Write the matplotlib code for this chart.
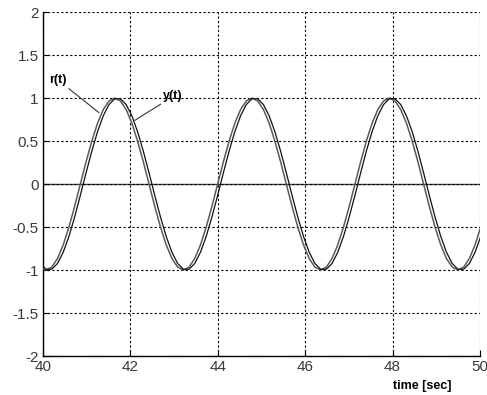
import matplotlib
matplotlib.use("Agg")
import matplotlib.pyplot as plt

# time samples [sec]
t = [39.939, 40.070, 40.201, 40.332, 40.463, 40.594, 40.725, 40.855, 40.986, 41.117,
     41.248, 41.379, 41.510, 41.641, 41.772, 41.903, 42.034, 42.164, 42.295, 42.426,
     42.557, 42.688, 42.819, 42.950, 43.081, 43.212, 43.343, 43.473, 43.604, 43.735,
     43.866, 43.997, 44.128, 44.259, 44.390, 44.521, 44.652, 44.782, 44.913, 45.044,
     45.175, 45.306, 45.437, 45.568, 45.699, 45.830, 45.961, 46.091, 46.222, 46.353,
     46.484, 46.615, 46.746, 46.877, 47.008, 47.139, 47.270, 47.400, 47.531, 47.662,
     47.793, 47.924, 48.055, 48.186, 48.317, 48.448, 48.579, 48.709, 48.840, 48.971,
     49.102, 49.233, 49.364, 49.495, 49.626, 49.757, 49.888, 50.018]

# reference r(t)
r = [-0.966, -1.0, -0.966, -0.866, -0.707, -0.5, -0.259, 0.0, 0.259, 0.5,
     0.707, 0.866, 0.966, 1.0, 0.966, 0.866, 0.707, 0.5, 0.259, 0.0,
     -0.259, -0.5, -0.707, -0.866, -0.966, -1.0, -0.966, -0.866, -0.707, -0.5,
     -0.259, 0.0, 0.259, 0.5, 0.707, 0.866, 0.966, 1.0, 0.966, 0.866,
     0.707, 0.5, 0.259, 0.0, -0.259, -0.5, -0.707, -0.866, -0.966, -1.0,
     -0.966, -0.866, -0.707, -0.5, -0.259, 0.0, 0.259, 0.5, 0.707, 0.866,
     0.966, 1.0, 0.966, 0.866, 0.707, 0.5, 0.259, 0.0, -0.259, -0.5,
     -0.707, -0.866, -0.966, -1.0, -0.966, -0.866, -0.707, -0.5]

# output y(t), lagging slightly behind r(t)
y = [-0.924, -0.991, -0.991, -0.924, -0.793, -0.609, -0.383, -0.131, 0.131, 0.383,
     0.609, 0.793, 0.924, 0.991, 0.991, 0.924, 0.793, 0.609, 0.383, 0.131,
     -0.131, -0.383, -0.609, -0.793, -0.924, -0.991, -0.991, -0.924, -0.793, -0.609,
     -0.383, -0.131, 0.131, 0.383, 0.609, 0.793, 0.924, 0.991, 0.991, 0.924,
     0.793, 0.609, 0.383, 0.131, -0.131, -0.383, -0.609, -0.793, -0.924, -0.991,
     -0.991, -0.924, -0.793, -0.609, -0.383, -0.131, 0.131, 0.383, 0.609, 0.793,
     0.924, 0.991, 0.991, 0.924, 0.793, 0.609, 0.383, 0.131, -0.131, -0.383,
     -0.609, -0.793, -0.924, -0.991, -0.991, -0.924, -0.793, -0.609]

xticks = [40, 42, 44, 46, 48, 50]
yticks = [-2, -1.5, -1, -0.5, 0, 0.5, 1, 1.5, 2]
ytick_labels = ["-2", "-1.5", "-1", "-0.5", "0", "0.5", "1", "1.5", "2"]

plt.rcParams["font.family"] = ["Liberation Sans", "DejaVu Sans"]

fig = plt.figure(figsize=(4.87, 3.95), dpi=100)
ax = fig.add_axes([0.0883, 0.0987, 0.8973, 0.8709])

ax.axhline(0, color="#444444", lw=1.0, zorder=1)
ax.plot(t, r, color="#5a5a5a", lw=1.1, zorder=3)
ax.plot(t, y, color="#111111", lw=0.9, zorder=3)

ax.set_xlim(40, 50)
ax.set_ylim(-2, 2)
ax.set_xticks(xticks)
ax.set_xticklabels([str(v) for v in xticks])
ax.set_yticks(yticks)
ax.set_yticklabels(ytick_labels)
ax.tick_params(direction="in", length=4, labelsize=11, labelcolor="#3a3a3a",
               color="black", pad=3)

ax.grid(True, color="black", linestyle=(0, (2, 2)), lw=0.8)
for side in ["top", "right"]:
    ax.spines[side].set_visible(False)
for side in ["left", "bottom"]:
    ax.spines[side].set_linewidth(1.0)
    ax.spines[side].set_color("black")

# curve labels
ax.annotate("r(t)", xy=(41.28, 0.83), xytext=(40.34, 1.14),
            fontsize=9, fontweight="bold", ha="center", va="bottom",
            arrowprops=dict(arrowstyle="-", color="#333333", lw=0.8,
                            shrinkA=0, shrinkB=0))
ax.annotate("y(t)", xy=(42.1, 0.74), xytext=(42.98, 0.95),
            fontsize=9, fontweight="bold", ha="center", va="bottom",
            arrowprops=dict(arrowstyle="-", color="#333333", lw=0.8,
                            shrinkA=0, shrinkB=0))

fig.text(0.867, 0.024, "time [sec]", fontsize=9, fontweight="bold",
         ha="center", va="center")

fig.savefig("out.png", dpi=100)
